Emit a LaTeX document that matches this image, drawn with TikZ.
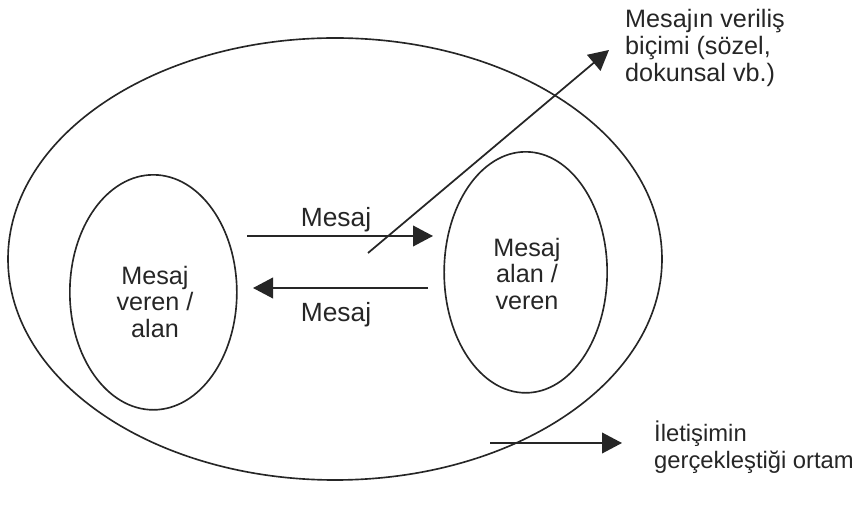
\documentclass[tikz,border=0pt]{standalone}
\usepackage{fontspec}
\setmainfont{Liberation Sans}
\usetikzlibrary{arrows.meta, shapes.geometric}

\begin{document}
\begin{tikzpicture}[
    >={Triangle[length=0.6cm, width=0.62cm]},
    oval/.style={draw=black!85, ellipse, inner sep=0pt, line width=1.4pt},
    lbl/.style={font=\fontsize{21.5}{23}\selectfont, text=black!85,
                inner sep=0pt, align=center},
    arr/.style={->, draw=black!85, line width=1.5pt}
  ]
  \useasboundingbox (0,0) rectangle (25.92,15.27);

  % Ortam and the two sides
  \node[oval, minimum width=19.62cm, minimum height=13.26cm] (ortam) at (10.05, 7.5) {};
  \node[oval, minimum width=5.01cm, minimum height=7.05cm] (veren) at (4.6, 6.5) {};
  \node[oval, minimum width=4.89cm, minimum height=7.23cm] (alan) at (15.77, 7.1) {};

  \node[lbl] (verentxt) at (4.65, 6.21) {Mesaj\\veren /\\alan};
  \node[lbl] (alantxt) at (15.81, 7.05) {Mesaj\\alan /\\veren};

  % Mesaj arrows
  \coordinate (git1) at (7.41, 8.19);
  \coordinate (git2) at (12.99, 8.19);
  \coordinate (don1) at (12.84, 6.63);
  \coordinate (don2) at (7.59, 6.63);
  \draw[arr] (git1) -- (git2);
  \draw[arr] (don1) -- (don2);
  \node[lbl, font=\fontsize{22.5}{23}\selectfont, anchor=base] (mesaj1) at (10.08, 8.46) {Mesaj};
  \node[lbl, font=\fontsize{22.5}{23}\selectfont, anchor=base] (mesaj2) at (10.08, 5.61) {Mesaj};

  % Veriliş biçimi
  \coordinate (bicim1) at (11.04, 7.68);
  \coordinate (bicim2) at (18.27, 13.77);
  \draw[arr] (bicim1) -- (bicim2);
  \node[lbl, align=left, anchor=north west] (bicim) at (18.75, 15.0)
    {Mesajın veriliş\\biçimi (sözel,\\dokunsal vb.)};

  % Ortam
  \coordinate (ort1) at (14.7, 1.98);
  \coordinate (ort2) at (18.66, 1.98);
  \draw[arr] (ort1) -- (ort2);
  \node[lbl, font=\fontsize{20.3}{23}\selectfont, align=left, anchor=north west] (ortamtxt)
    at (19.62, 2.64) {İletişimin\\gerçekleştiği ortam};
\end{tikzpicture}
\end{document}
